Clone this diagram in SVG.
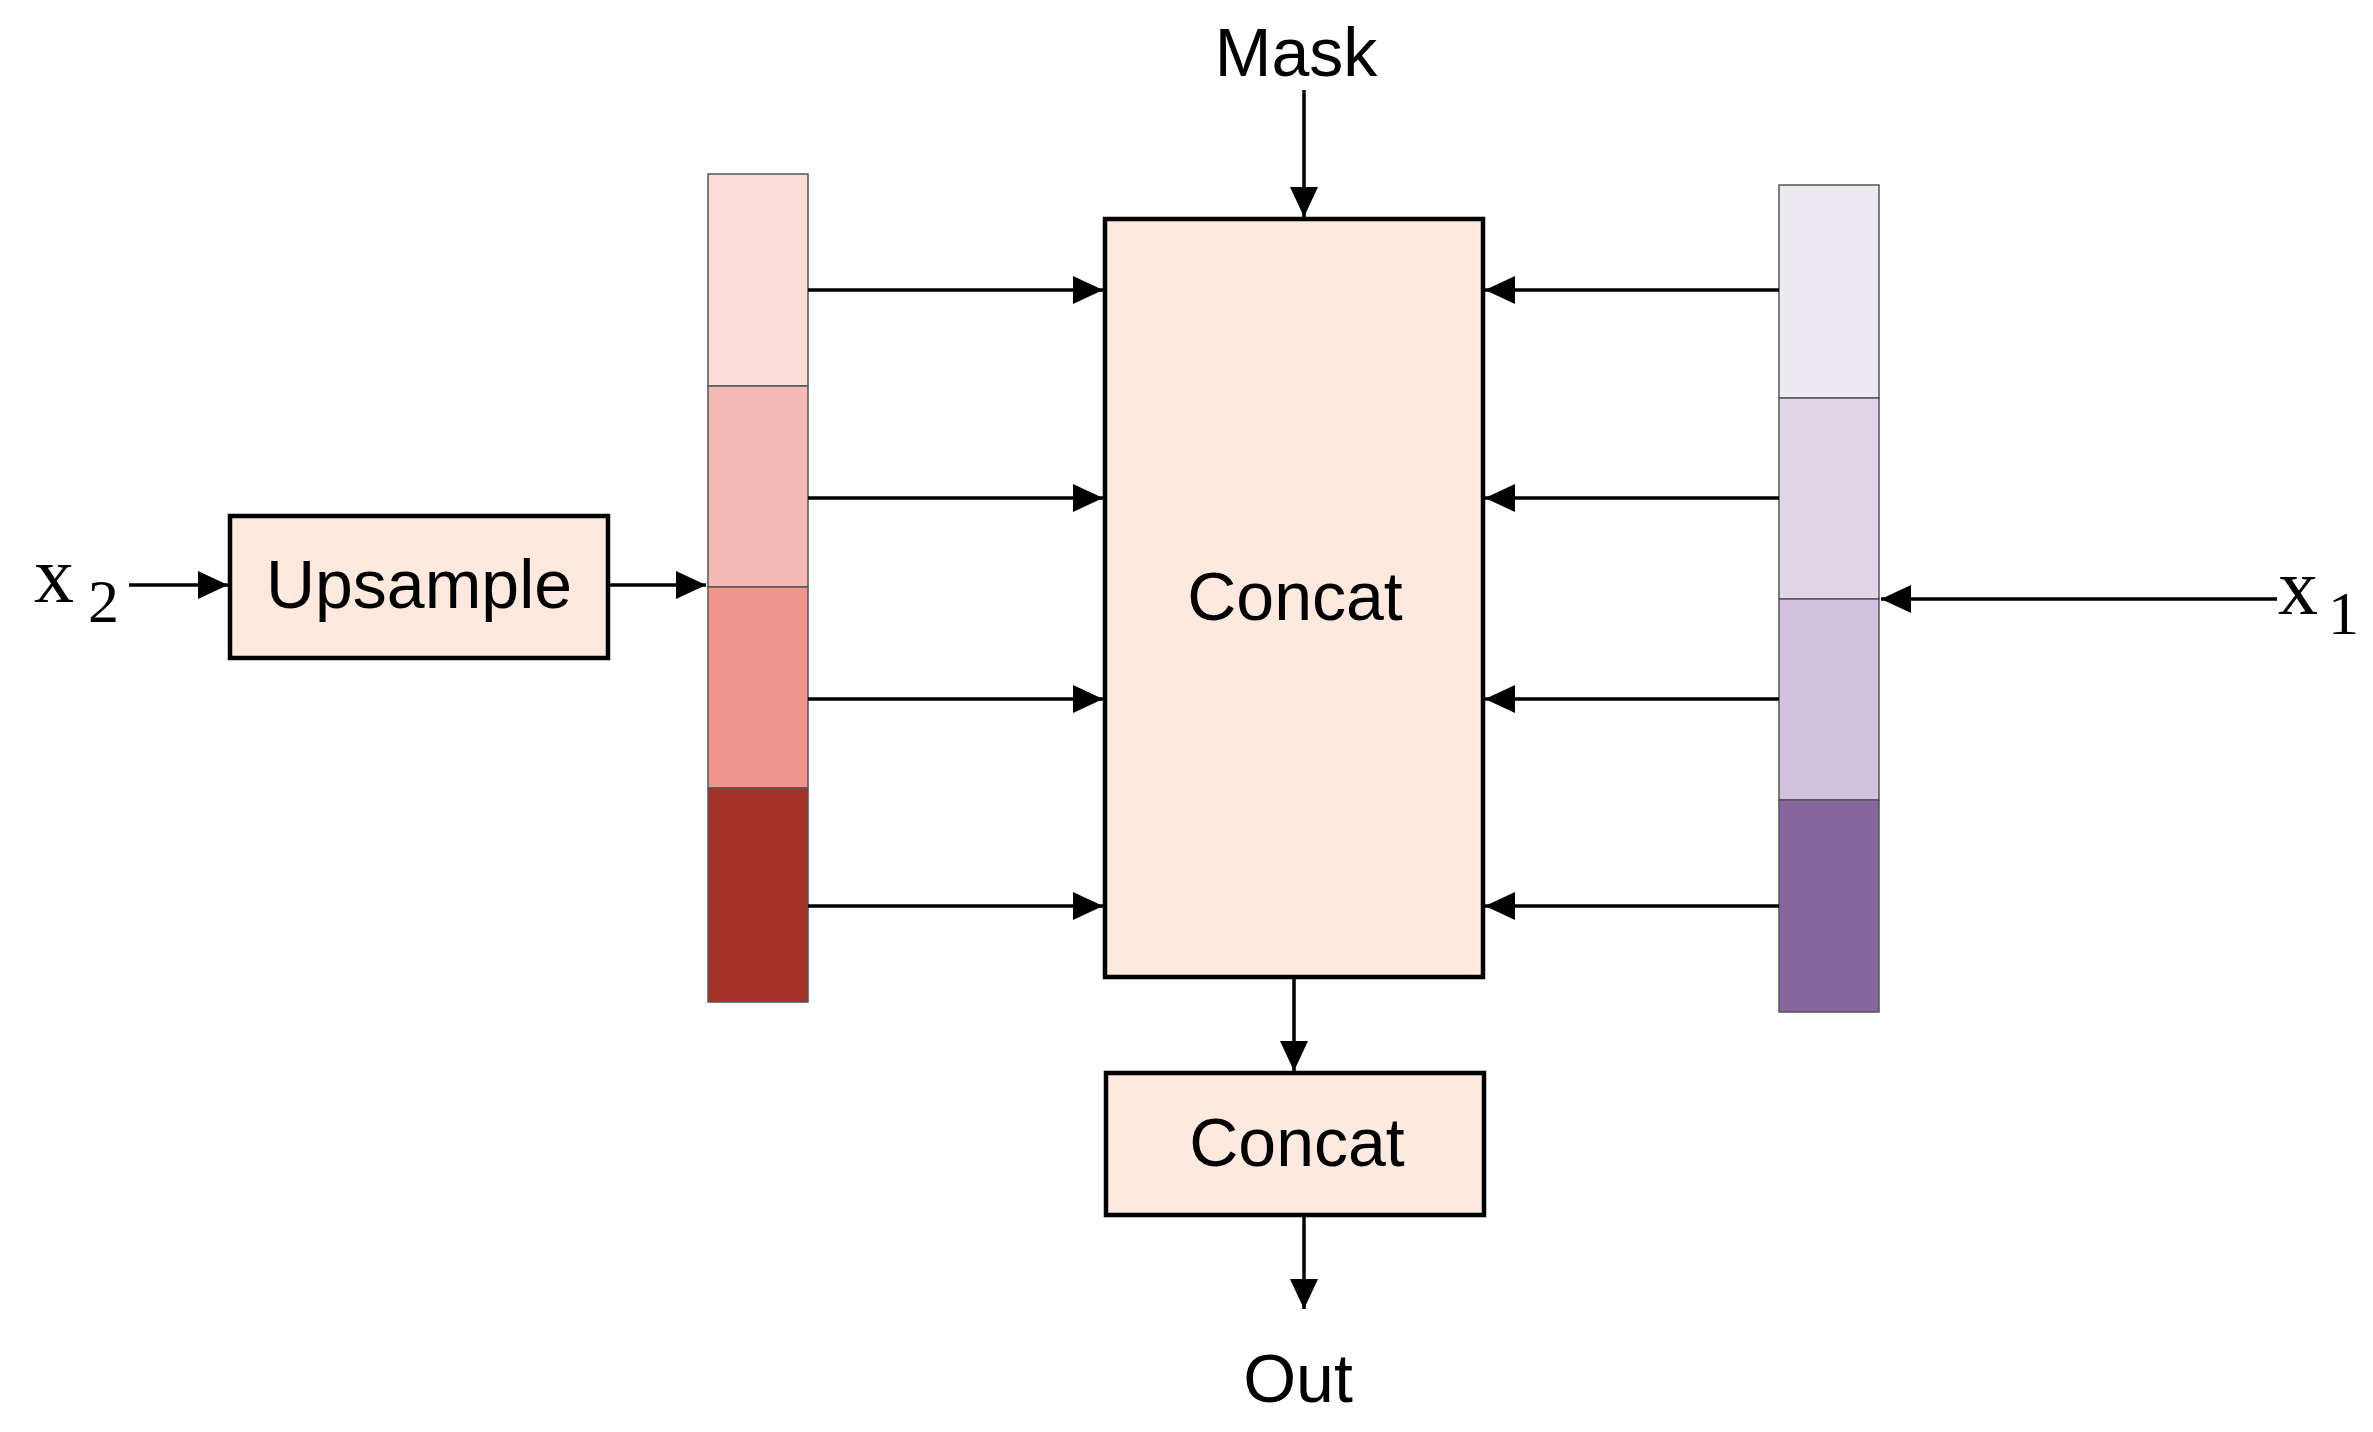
<svg xmlns="http://www.w3.org/2000/svg" width="2373" height="1432" viewBox="0 0 2373 1432">
<style>
.t{font-family:"Liberation Sans",Arial,sans-serif;font-size:68px;fill:#000;text-anchor:middle}
.m{font-family:"Liberation Serif","Times New Roman",serif;fill:#000}
.box{fill:#FDE9DD;stroke:#000;stroke-width:4.5}
.seg{stroke:#555;stroke-width:1.5}
.c{stroke:#000;stroke-width:3.5;fill:none;marker-end:url(#a)}
</style>
<defs>
<marker id="a" markerUnits="userSpaceOnUse" markerWidth="30" markerHeight="28" refX="30" refY="14" orient="auto">
<path d="M0,0 L30,14 L0,28 Z" fill="#000"/>
</marker>
</defs>
<rect width="2373" height="1432" fill="#fff"/>
<g id="x2"><text class="m" x="34" y="602" font-size="80">x</text><text class="m" x="88" y="622" font-size="62">2</text></g>
<g id="x1"><text class="m" x="2278" y="614" font-size="80">x</text><text class="m" x="2328" y="634" font-size="62">1</text></g>
<g id="mask"><text class="t" x="1296" y="76">Mask</text></g>
<g id="out"><text class="t" x="1298" y="1402">Out</text></g>
<g id="upsample"><rect class="box" x="230" y="516" width="378" height="142"/><text class="t" x="419" y="608">Upsample</text></g>
<g id="leftbar">
<rect class="seg" x="708" y="174" width="100" height="212" fill="#FADCD8"/>
<rect class="seg" x="708" y="386" width="100" height="201" fill="#F4BAB5"/>
<rect class="seg" x="708" y="587" width="100" height="201" fill="#F0958C"/>
<rect class="seg" x="708" y="788" width="100" height="214" fill="#A5332A"/>
</g>
<g id="rightbar">
<rect class="seg" x="1779" y="185" width="100" height="213" fill="#EEEAF2"/>
<rect class="seg" x="1779" y="398" width="100" height="201" fill="#E0D6E8"/>
<rect class="seg" x="1779" y="599" width="100" height="201" fill="#D2C2DE"/>
<rect class="seg" x="1779" y="800" width="100" height="212" fill="#8766A0"/>
</g>
<g id="concat1"><rect class="box" x="1105" y="219" width="378" height="758"/><text class="t" x="1295" y="620" font-size="70">Concat</text></g>
<g id="concat2"><rect class="box" x="1106" y="1073" width="378" height="142"/><text class="t" x="1297" y="1166" font-size="70">Concat</text></g>
<g id="connectors">
<line class="c" x1="1304" y1="90" x2="1304" y2="217"/>
<line class="c" x1="129" y1="585" x2="228" y2="585"/>
<line class="c" x1="608" y1="585" x2="706" y2="585"/>
<line class="c" x1="808" y1="290" x2="1103" y2="290"/>
<line class="c" x1="808" y1="498" x2="1103" y2="498"/>
<line class="c" x1="808" y1="699" x2="1103" y2="699"/>
<line class="c" x1="808" y1="906" x2="1103" y2="906"/>
<line class="c" x1="1779" y1="290" x2="1485" y2="290"/>
<line class="c" x1="1779" y1="498" x2="1485" y2="498"/>
<line class="c" x1="1779" y1="699" x2="1485" y2="699"/>
<line class="c" x1="1779" y1="906" x2="1485" y2="906"/>
<line class="c" x1="2277" y1="599" x2="1881" y2="599"/>
<line class="c" x1="1294" y1="977" x2="1294" y2="1071"/>
<line class="c" x1="1304" y1="1215" x2="1304" y2="1309"/>
</g>
</svg>
